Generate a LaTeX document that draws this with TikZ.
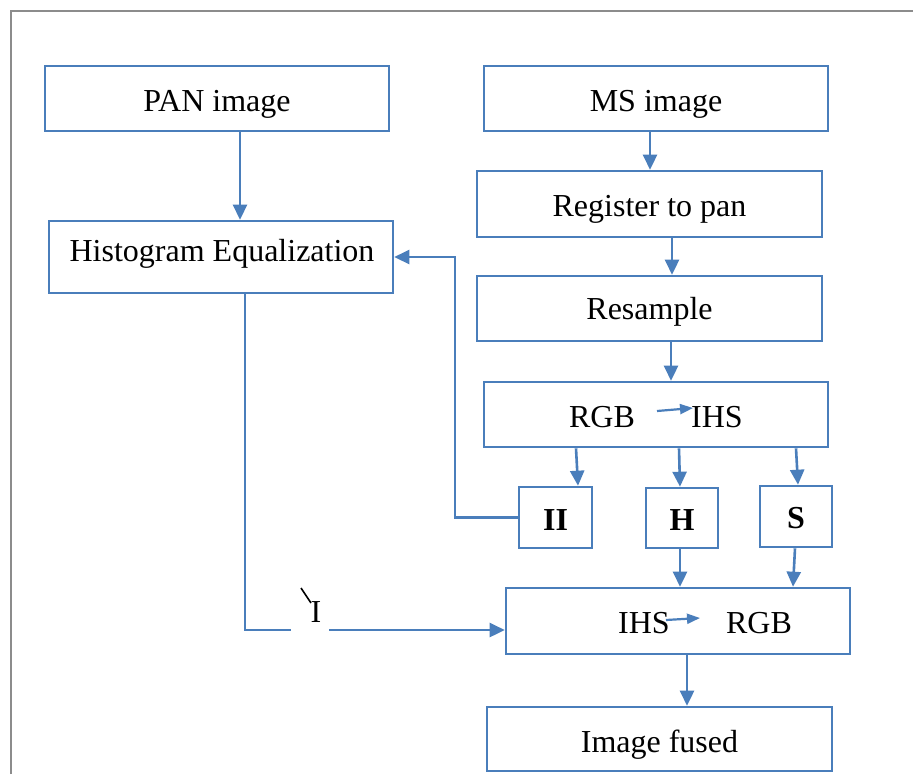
\documentclass[tikz,border=0pt]{standalone}
\usepackage{fontspec}
\setmainfont{Liberation Serif}
\usetikzlibrary{arrows.meta,calc}
\definecolor{flow}{RGB}{74,126,187}
\definecolor{framegray}{RGB}{140,140,140}
\tikzset{
  box/.style={draw=flow, line width=2.6pt, fill=white, inner sep=0pt},
  txt/.style={inner sep=0pt, anchor=base, font=\fontsize{32}{38}\selectfont},
  btxt/.style={txt, font=\fontsize{32}{38}\selectfont\bfseries},
  conn/.style={draw=flow, line width=2.6pt, -{Triangle[length=15pt,width=14pt]}},
  inarrow/.style={draw=flow, line width=2.2pt, -{Triangle[length=13pt,width=10pt]}}
}
\begin{document}
\begin{tikzpicture}[x=1pt,y=-1pt]
\useasboundingbox (0,0) rectangle (913,774);
\draw[framegray, line width=2pt] (11,774) -- (11,11) -- (913,11);
% boxes
\node[box, minimum width=344, minimum height=65] (pan) at (217,98.5) {};
\node[box, minimum width=344, minimum height=65] (ms) at (656,98.5) {};
\node[box, minimum width=345, minimum height=66] (reg) at (649.5,204) {};
\node[box, minimum width=344, minimum height=72] (hist) at (221,257) {};
\node[box, minimum width=345, minimum height=65] (res) at (649.5,308.5) {};
\node[box, minimum width=344, minimum height=65] (rgb) at (656,414.5) {};
\node[box, minimum width=73, minimum height=61] (ii) at (555.5,517.5) {};
\node[box, minimum width=72, minimum height=60] (h) at (682,518) {};
\node[box, minimum width=72, minimum height=61] (s) at (796,516.5) {};
\node[box, minimum width=344, minimum height=66] (ihs) at (678,621) {};
\node[box, minimum width=345, minimum height=64] (fused) at (659.5,739) {};
% texts
\node[txt] (pant) at (217,111) {PAN image};
\node[txt] (mst) at (656,111) {MS image};
\node[txt] (regt) at (649.5,216) {Register to pan};
\node[txt] (histt) at (222,261) {Histogram Equalization};
\node[txt] (rest) at (649.5,319) {Resample};
\node[txt] (t1) at (602,427) {RGB};
\node[txt] (t2) at (717,427) {IHS};
\node[btxt] (iit) at (555.5,530) {II};
\node[btxt] (ht) at (682,530) {H};
\node[btxt] (st) at (796,528) {S};
\node[txt] (t3) at (644,633) {IHS};
\node[txt] (t4) at (759,633) {RGB};
\node[txt] (fusedt) at (659.5,752) {Image fused};
\coordinate (a1s) at (657,411);
\coordinate (a1e) at (693,408);
\coordinate (a2s) at (666,620);
\coordinate (a2e) at (700,618);
\draw[inarrow] (a1s) -- (a1e);
\draw[inarrow] (a2s) -- (a2e);
% connectors
\draw[conn] ($(pan.south)+(23,0)$) -- ($(hist.north)+(19,0)$);
\draw[conn] ($(ms.south)+(-6,0)$) -- ($(reg.north)+(0.5,0)$);
\draw[conn] ($(reg.south)+(22.5,0)$) -- ($(res.north)+(22.5,0)$);
\draw[conn] ($(res.south)+(21.5,0)$) -- ($(rgb.north)+(15,0)$);
\draw[conn] ($(rgb.south)+(-80,0)$) -- ($(ii.north)+(22.5,0)$);
\draw[conn] ($(rgb.south)+(23,0)$) -- ($(h.north)+(-2,0)$);
\draw[conn] ($(rgb.south)+(140,0)$) -- ($(s.north)+(2,0)$);
\draw[conn] (ii.west) -- (455,517.5) -- (455,257) -- (hist.east);
\draw[conn] ($(hist.south)+(24,0)$) -- (245,630) -- ($(ihs.west)+(0,9)$);
\draw[conn] ($(h.south)+(-2,0)$) -- ($(ihs.north)+(2,0)$);
\draw[conn] ($(s.south)+(-1,0)$) -- ($(ihs.north)+(115,0)$);
\draw[conn] ($(ihs.south)+(9,0)$) -- ($(fused.north)+(27.5,0)$);
% I label
\fill[white] (291,628.5) rectangle (329,631.5);
\node[txt] (ilabel) at (316,622) {I};
\draw[black, line width=1.6pt] (301,588) -- (311,603);
\end{tikzpicture}
\end{document}
